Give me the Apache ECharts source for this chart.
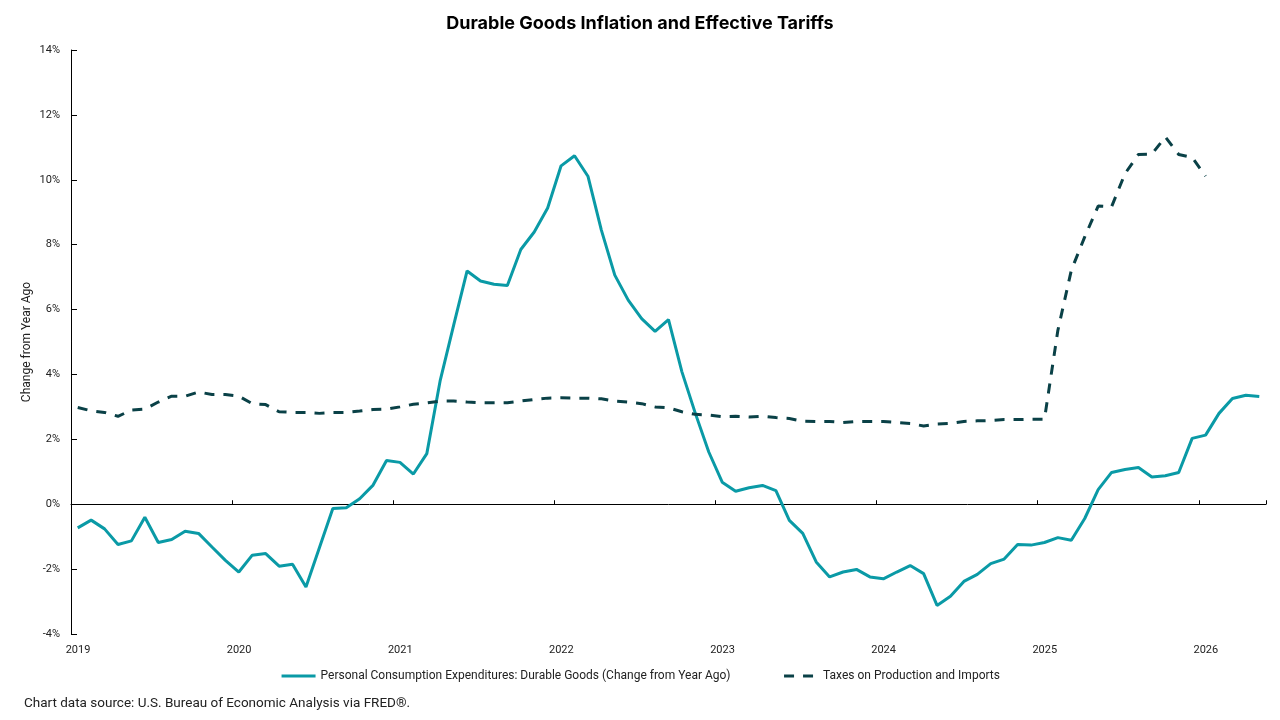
<!DOCTYPE html>
<html>
<head>
<meta charset="utf-8">
<title>Durable Goods Inflation and Effective Tariffs</title>
<script src="https://cdn.jsdelivr.net/npm/echarts@6/dist/echarts.min.js"></script>
<style>
  html, body { margin: 0; padding: 0; background: #fff; }
  #chart { width: 1280px; height: 720px; }
</style>
</head>
<body>
<div id="chart"></div>
<script>
// Monthly series, both starting Jan 2019. Values in % change from year ago.
const startYear = 2019;
const yearTicks = [2019, 2020, 2021, 2022, 2023, 2024, 2025, 2026];

// PCE: Durable Goods, Jan 2019 .. May 2026
const pceValues = [
  -0.73, -0.49, -0.76, -1.24, -1.13, -0.40, -1.18, -1.09, -0.83, -0.90, -1.32, -1.73,
  -2.09, -1.57, -1.52, -1.91, -1.85, -2.55, -1.34, -0.13, -0.11, 0.17, 0.59, 1.35,
  1.29, 0.93, 1.56, 3.82, 5.52, 7.19, 6.88, 6.78, 6.74, 7.85, 8.39, 9.13,
  10.43, 10.74, 10.11, 8.45, 7.06, 6.29, 5.72, 5.33, 5.69, 4.08, 2.80, 1.61,
  0.68, 0.40, 0.51, 0.58, 0.42, -0.50, -0.90, -1.78, -2.24, -2.09, -2.01, -2.24,
  -2.30, -2.09, -1.89, -2.14, -3.12, -2.84, -2.38, -2.16, -1.83, -1.69, -1.24, -1.26,
  -1.18, -1.03, -1.11, -0.44, 0.45, 0.98, 1.07, 1.13, 0.84, 0.88, 0.98, 2.03,
  2.13, 2.80, 3.26, 3.36, 3.32
];

// Taxes on Production and Imports, Jan 2019 .. Jan 2026
const taxValues = [
  2.98, 2.88, 2.83, 2.71, 2.90, 2.93, 3.15, 3.33, 3.33, 3.46, 3.38, 3.38,
  3.33, 3.10, 3.07, 2.85, 2.83, 2.83, 2.80, 2.83, 2.83, 2.87, 2.92, 2.93,
  3.00, 3.08, 3.12, 3.18, 3.18, 3.15, 3.13, 3.13, 3.13, 3.18, 3.23, 3.27,
  3.28, 3.27, 3.27, 3.25, 3.18, 3.15, 3.10, 3.00, 2.97, 2.85, 2.77, 2.75,
  2.70, 2.71, 2.69, 2.71, 2.67, 2.64, 2.56, 2.55, 2.55, 2.52, 2.55, 2.55,
  2.55, 2.52, 2.49, 2.41, 2.47, 2.49, 2.55, 2.57, 2.58, 2.61, 2.61, 2.62,
  2.62, 5.36, 7.21, 8.24, 9.19, 9.17, 10.19, 10.78, 10.79, 11.32, 10.78, 10.69,
  10.11
];

const PCE_NAME = 'Personal Consumption Expenditures: Durable Goods (Change from Year Ago)';
const TAX_NAME = 'Taxes on Production and Imports';

// month index -> decimal year, plotted at mid-month
const toPoints = (vals) => vals.map((v, i) => [startYear + (i + 0.5) / 12, v]);

const xMin = yearTicks[0];
const xMax = 2026 + 5 / 12;

const chart = echarts.init(document.getElementById('chart'));

const axisText = { color: '#222', fontSize: 11, fontFamily: 'Roboto' };

chart.setOption({
  animation: false,
  textStyle: { fontFamily: 'Roboto' },
  title: {
    text: 'Durable Goods Inflation and Effective Tariffs',
    left: 'center', top: 10,
    textStyle: { fontSize: 18, fontWeight: 700, color: '#000', fontFamily: 'Inter' },
  },
  grid: { left: 71, right: 14, top: 50, bottom: 86 },
  legend: {
    bottom: 33, left: 'center',
    itemWidth: 34, itemHeight: 12, itemGap: 52,
    itemStyle: { opacity: 0 },   // hide the marker dot, keep the line
    lineStyle: { width: 3 },
    textStyle: { color: '#222', fontSize: 12 },
    data: [PCE_NAME, TAX_NAME],
  },
  xAxis: [
    {
      // line + ticks sitting on 0%
      type: 'value', min: xMin, max: xMax, interval: 1,
      axisLine: { onZero: true, lineStyle: { color: '#000', width: 1 } },
      axisTick: { inside: true, length: 4, lineStyle: { color: '#000' } },
      axisLabel: { show: false },
      splitLine: { show: false },
    },
    {
      // labels only, along the bottom
      type: 'value', min: xMin, max: xMax, interval: 1, position: 'bottom',
      axisLine: { show: false, onZero: false },
      axisTick: { show: false },
      splitLine: { show: false },
      axisLabel: {
        ...axisText, margin: 11, padding: [0, 0, 0, 14],
        showMaxLabel: false,
        formatter: (v) => yearTicks.includes(v) ? String(v) : '',
      },
    },
  ],
  yAxis: {
    type: 'value', min: -4, max: 14, interval: 2,
    name: 'Change from Year Ago', nameLocation: 'middle', nameGap: 38,
    nameMoveOverlap: false,
    nameTextStyle: { color: '#222', fontSize: 12 },
    axisLine: { show: true, lineStyle: { color: '#000', width: 1 } },
    axisTick: { show: true, inside: true, length: 6, lineStyle: { color: '#000' } },
    axisLabel: { ...axisText, margin: 11, formatter: (v) => v + '%' },
    splitLine: { show: false },
  },
  series: [
    {
      name: PCE_NAME, type: 'line', xAxisIndex: 0,
      symbol: 'none',
      lineStyle: { color: '#0a9aa6', width: 3 },
      itemStyle: { color: '#0a9aa6' },
      data: toPoints(pceValues),
    },
    {
      name: TAX_NAME, type: 'line', xAxisIndex: 0,
      symbol: 'none',
      lineStyle: { color: '#0a4147', width: 3, type: [10, 9] },
      itemStyle: { color: '#0a4147' },
      data: toPoints(taxValues),
    },
  ],
  graphic: [{
    type: 'text', left: 24, top: 697,
    style: {
      text: 'Chart data source: U.S. Bureau of Economic Analysis via FRED®.',
      fill: '#222', fontSize: 13.5, fontFamily: 'Roboto',
    },
  }],
});
</script>
</body>
</html>
